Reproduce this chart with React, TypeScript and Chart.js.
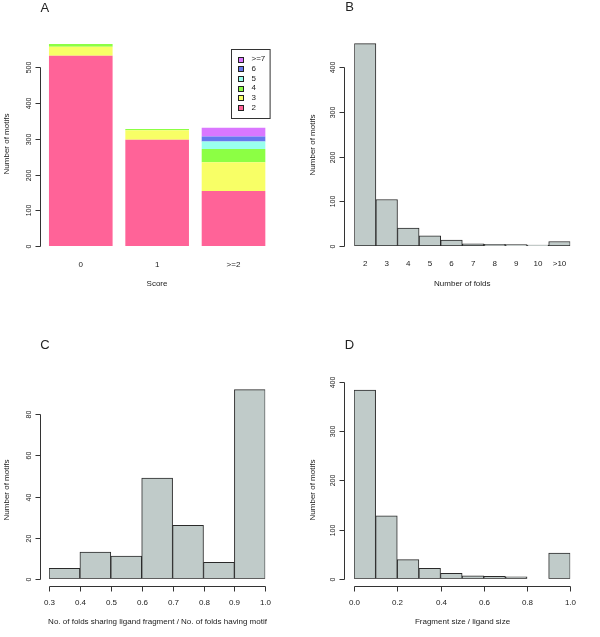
import React, { useEffect, useRef } from "react";
import { Chart, registerables } from "chart.js";

Chart.register(...registerables);

// ---------- Data ----------
// Panel A: stacked barplot of motifs by score
const scoreCategories = ["0", "1", ">=2"];
const foldGroupLabels = ["2", "3", "4", "5", "6", ">=7"];
const folds2 = [532, 297, 154];
const folds3 = [25, 27, 80];
const folds4 = [8, 3, 37];
const folds5 = [0, 0, 21];
const folds6 = [0, 0, 14];
const folds7plus = [0, 0, 25];
const foldGroupColors = ["#FF6398", "#F8FF66", "#8CFF44", "#99FFEE", "#6677EE", "#DA77FF"];
const yTicksA = [0, 100, 200, 300, 400, 500];

// Panel B: number of folds
const foldCountLabels = ["2", "3", "4", "5", "6", "7", "8", "9", "10", ">10"];
const foldCountValues = [453, 104, 40, 23, 13, 5, 4, 3, 2, 10];
const yTicksB = [0, 100, 200, 300, 400];

// Panel C: fraction of folds sharing ligand fragment
const ratioBinStarts = [0.3, 0.4, 0.5, 0.6, 0.7, 0.8, 0.9];
const ratioCounts = [5, 13, 11, 49, 26, 8, 92];
const xTicksC = [0.3, 0.4, 0.5, 0.6, 0.7, 0.8, 0.9, 1.0];
const yTicksC = [0, 20, 40, 60, 80];

// Panel D: fragment size / ligand size
const sizeBinStarts = [0.0, 0.1, 0.2, 0.3, 0.4, 0.5, 0.6, 0.7, 0.8, 0.9];
const sizeCounts = [384, 128, 39, 21, 11, 6, 5, 4, 0, 52];
const xTicksD = [0.0, 0.2, 0.4, 0.6, 0.8, 1.0];
const yTicksD = [0, 100, 200, 300, 400];

const binWidth = 0.1;

// ---------- Styling ----------
const FONT = '"Liberation Sans", Arial, Helvetica, sans-serif';
const HIST_FILL = "#C0CBC9";
const HIST_BORDER = "#2a2a2a";
const INK = "#222";

type PanelCfg = {
  letter: string;
  letterX: number;
  letterY: number;
  yTicks: number[];
  yAxisX: number;
  yLabelX: number;
  yTitle: string;
  yTitleX: number;
  yTitleY: number;
  xTicks?: number[];
  xAxisY?: number;
  xLabelY: number;
  xTitle: string;
  xTitleX: number;
  xTitleY: number;
  legend?: { x0: number; y0: number; x1: number; y1: number; rowY: number[]; boxX: number; textX: number };
};

function rAxesPlugin(cfg: PanelCfg) {
  return {
    id: "rAxes",
    afterDraw(chart: any) {
      const ctx: CanvasRenderingContext2D = chart.ctx;
      const ys = chart.scales.y;
      const xs = chart.scales.x;
      ctx.save();
      ctx.strokeStyle = "#333";
      ctx.fillStyle = INK;
      ctx.lineWidth = 1;

      // Panel letter
      ctx.font = `13px ${FONT}`;
      ctx.textAlign = "center";
      ctx.textBaseline = "middle";
      ctx.fillText(cfg.letter, cfg.letterX, cfg.letterY);

      // Y axis
      ctx.font = `7px ${FONT}`;
      const ax = Math.round(cfg.yAxisX) + 0.5;
      const yFirst = Math.round(ys.getPixelForValue(cfg.yTicks[0])) + 0.5;
      const yLast = Math.round(ys.getPixelForValue(cfg.yTicks[cfg.yTicks.length - 1])) + 0.5;
      ctx.beginPath();
      ctx.moveTo(ax, yFirst);
      ctx.lineTo(ax, yLast);
      ctx.stroke();
      for (const t of cfg.yTicks) {
        const py = Math.round(ys.getPixelForValue(t)) + 0.5;
        ctx.beginPath();
        ctx.moveTo(ax - 5, py);
        ctx.lineTo(ax, py);
        ctx.stroke();
        ctx.save();
        ctx.translate(cfg.yLabelX, py);
        ctx.rotate(-Math.PI / 2);
        ctx.textAlign = "center";
        ctx.textBaseline = "middle";
        ctx.fillText(String(t), 0, 0);
        ctx.restore();
      }
      // Y title
      ctx.font = `8px ${FONT}`;
      ctx.save();
      ctx.translate(cfg.yTitleX, cfg.yTitleY);
      ctx.rotate(-Math.PI / 2);
      ctx.textAlign = "center";
      ctx.textBaseline = "middle";
      ctx.fillText(cfg.yTitle, 0, 0);
      ctx.restore();

      // X axis
      ctx.textAlign = "center";
      ctx.textBaseline = "middle";
      if (cfg.xTicks && cfg.xAxisY !== undefined) {
        const ay = Math.round(cfg.xAxisY) + 0.5;
        const xFirst = Math.round(xs.getPixelForValue(cfg.xTicks[0])) + 0.5;
        const xLast = Math.round(xs.getPixelForValue(cfg.xTicks[cfg.xTicks.length - 1])) + 0.5;
        ctx.beginPath();
        ctx.moveTo(xFirst, ay);
        ctx.lineTo(xLast, ay);
        ctx.stroke();
        for (const t of cfg.xTicks) {
          const px = Math.round(xs.getPixelForValue(t)) + 0.5;
          ctx.beginPath();
          ctx.moveTo(px, ay);
          ctx.lineTo(px, ay + 5);
          ctx.stroke();
          ctx.fillText(t.toFixed(1), px, cfg.xLabelY);
        }
      } else {
        const labels: string[] = chart.data.labels;
        labels.forEach((l, i) => {
          ctx.fillText(l, xs.getPixelForValue(i), cfg.xLabelY);
        });
      }
      ctx.fillText(cfg.xTitle, cfg.xTitleX, cfg.xTitleY);

      // Legend
      if (cfg.legend) {
        const L = cfg.legend;
        ctx.strokeStyle = "#333";
        ctx.strokeRect(Math.round(L.x0) + 0.5, Math.round(L.y0) + 0.5, L.x1 - L.x0, L.y1 - L.y0);
        const ds = chart.data.datasets;
        const n = ds.length;
        for (let r = 0; r < n; r++) {
          const d = ds[n - 1 - r];
          const cy = L.rowY[r];
          const s = 5;
          ctx.fillStyle = d.backgroundColor;
          ctx.fillRect(Math.round(L.boxX - s / 2) + 0.5, Math.round(cy - s / 2) + 0.5, s, s);
          ctx.strokeStyle = "#222";
          ctx.strokeRect(Math.round(L.boxX - s / 2) + 0.5, Math.round(cy - s / 2) + 0.5, s, s);
          ctx.fillStyle = INK;
          ctx.textAlign = "left";
          ctx.textBaseline = "middle";
          ctx.fillText(d.label, L.textX, cy);
        }
      }
      ctx.restore();
    },
  };
}

function baseOptions(padding: any) {
  return {
    responsive: false,
    maintainAspectRatio: false,
    animation: false as const,
    devicePixelRatio: 1,
    layout: { padding },
    plugins: { legend: { display: false }, tooltip: { enabled: false } },
  };
}

function buildA() {
  const series = [folds2, folds3, folds4, folds5, folds6, folds7plus];
  return {
    type: "bar" as const,
    data: {
      labels: scoreCategories,
      datasets: foldGroupLabels.map((label, i) => ({
        label,
        data: series[i],
        backgroundColor: foldGroupColors[i],
        borderWidth: 0,
        barPercentage: 0.8333,
        categoryPercentage: 1,
      })),
    },
    options: {
      ...baseOptions({ left: 42.6, right: 28.3, top: 31.5, bottom: 72 }),
      scales: {
        x: { display: false, stacked: true },
        y: { display: false, stacked: true, min: 0, max: 600 },
      },
    },
    plugins: [
      rAxesPlugin({
        letter: "A", letterX: 44.8, letterY: 8.5,
        yTicks: yTicksA, yAxisX: 40, yLabelX: 29,
        yTitle: "Number of motifs", yTitleX: 6.3, yTitleY: 144,
        xLabelY: 264.3, xTitle: "Score", xTitleX: 157, xTitleY: 283.3,
        legend: {
          x0: 230.7, y0: 49, x1: 269.3, y1: 118,
          rowY: [59, 68.8, 78.5, 88.2, 97.9, 107.6],
          boxX: 240, textX: 251.5,
        },
      }),
    ],
  };
}

function buildB() {
  return {
    type: "bar" as const,
    data: {
      labels: foldCountLabels,
      datasets: [
        {
          label: "Number of motifs",
          data: foldCountValues,
          backgroundColor: HIST_FILL,
          borderColor: HIST_BORDER,
          borderWidth: 1,
          borderSkipped: false,
          barPercentage: 1,
          categoryPercentage: 1,
        },
      ],
    },
    options: {
      ...baseOptions({ left: 54.3, right: 29.7, top: 31.5, bottom: 72 }),
      scales: {
        x: { display: false },
        y: { display: false, min: 0, max: 480 },
      },
    },
    plugins: [
      rAxesPlugin({
        letter: "B", letterX: 49.5, letterY: 7,
        yTicks: yTicksB, yAxisX: 44, yLabelX: 33,
        yTitle: "Number of motifs", yTitleX: 13, yTitleY: 145,
        xLabelY: 263.3, xTitle: "Number of folds", xTitleX: 162.3, xTitleY: 283.3,
      }),
    ],
  };
}

function histConfig(starts: number[], counts: number[], xMin: number, xMax: number, yMax: number, padding: any, cfg: PanelCfg) {
  return {
    type: "bar" as const,
    data: {
      datasets: [
        {
          label: "Number of motifs",
          data: starts.map((s, i) => ({ x: s + binWidth / 2, y: counts[i] })),
          backgroundColor: HIST_FILL,
          borderColor: HIST_BORDER,
          borderWidth: 1,
          borderSkipped: false,
          barPercentage: 1,
          categoryPercentage: 1,
        },
      ],
    },
    options: {
      ...baseOptions(padding),
      scales: {
        x: { type: "linear" as const, display: false, offset: false, min: xMin, max: xMax, ticks: { stepSize: binWidth } },
        y: { display: false, min: 0, max: yMax },
      },
    },
    plugins: [rAxesPlugin(cfg)],
  };
}

function buildC() {
  return histConfig(ratioBinStarts, ratioCounts, 0.3, 1.0, 100,
    { left: 49, right: 34.7, top: 55.2, bottom: 58.3 },
    {
      letter: "C", letterX: 45, letterY: 27.8,
      yTicks: yTicksC, yAxisX: 40, yLabelX: 29,
      yTitle: "Number of motifs", yTitleX: 6.5, yTitleY: 172,
      xTicks: xTicksC, xAxisY: 268.3, xLabelY: 284.3,
      xTitle: "No. of folds sharing ligand fragment / No. of folds having motif", xTitleX: 157.5, xTitleY: 303.7,
    });
}

function buildD() {
  return histConfig(sizeBinStarts, sizeCounts, 0.0, 1.0, 450,
    { left: 54, right: 29.7, top: 39.7, bottom: 58.3 },
    {
      letter: "D", letterX: 49.5, letterY: 27.8,
      yTicks: yTicksD, yAxisX: 44, yLabelX: 33,
      yTitle: "Number of motifs", yTitleX: 13, yTitleY: 172,
      xTicks: xTicksD, xAxisY: 268.3, xLabelY: 284.3,
      xTitle: "Fragment size / ligand size", xTitleX: 162.5, xTitleY: 303.7,
    });
}

function Panel(props: { left: number; top: number; width: number; height: number; build: () => any }) {
  const ref = useRef<HTMLCanvasElement>(null);
  useEffect(() => {
    const chart = new Chart(ref.current as HTMLCanvasElement, props.build());
    return () => chart.destroy();
  }, []);
  return (
    <canvas
      ref={ref}
      width={props.width}
      height={props.height}
      style={{ position: "absolute", left: props.left, top: props.top, width: props.width, height: props.height }}
    />
  );
}

export default function App() {
  return (
    <div style={{ position: "fixed", left: 0, top: 0, width: 600, height: 637, background: "#fff", overflow: "hidden" }}>
      <Panel left={0} top={0} width={300} height={318} build={buildA} />
      <Panel left={300} top={0} width={300} height={318} build={buildB} />
      <Panel left={0} top={318} width={300} height={319} build={buildC} />
      <Panel left={300} top={318} width={300} height={319} build={buildD} />
    </div>
  );
}
